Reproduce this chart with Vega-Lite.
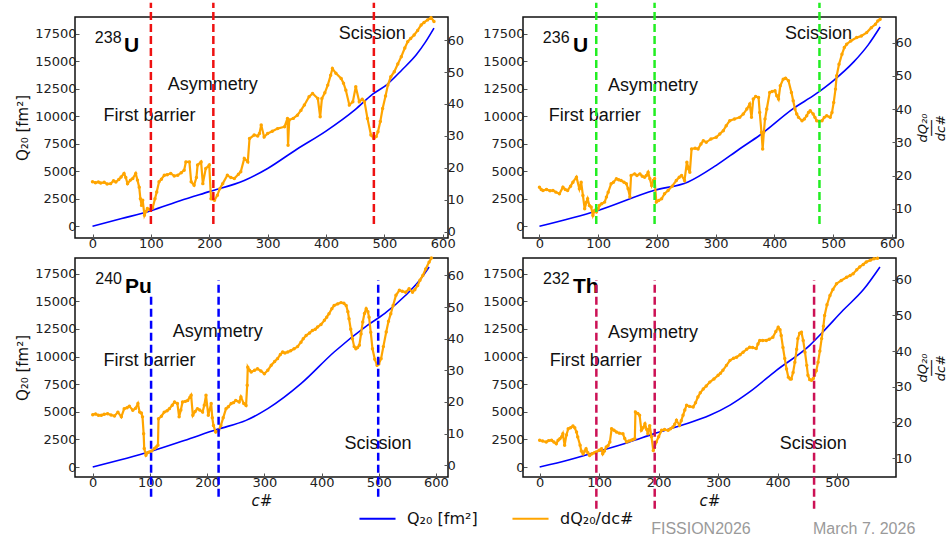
{
"$schema": "https://vega.github.io/schema/vega-lite/v6.json",
"padding": {"left": 14, "top": 0, "right": 0, "bottom": 0},
"background": "white",
"title": {"text": "FISSION2026\u00a0\u00a0\u00a0\u00a0\u00a0\u00a0\u00a0\u00a0\u00a0\u00a0\u00a0\u00a0\u00a0\u00a0March 7, 2026", "orient": "bottom", "anchor": "end", "font": "Liberation Sans", "fontSize": 16, "fontWeight": "normal", "color": "#9a9a9a", "dx": -33, "offset": -6},
"datasets": {
"q": [
{"p":"U238","c":0,"q":0},{"p":"U238","c":50,"q":700},{"p":"U238","c":100,"q":1420},{"p":"U238","c":150,"q":2320},{"p":"U238","c":200,"q":3150},{"p":"U238","c":260,"q":4150},{"p":"U238","c":300,"q":5250},{"p":"U238","c":350,"q":7000},{"p":"U238","c":400,"q":8650},{"p":"U238","c":450,"q":10600},{"p":"U238","c":480,"q":12000},{"p":"U238","c":505,"q":12900},{"p":"U238","c":530,"q":14200},{"p":"U238","c":555,"q":15600},{"p":"U238","c":570,"q":16700},{"p":"U238","c":585,"q":18000},
{"p":"U236","c":0,"q":0},{"p":"U236","c":97,"q":1390},{"p":"U236","c":196,"q":3270},{"p":"U236","c":253,"q":4030},{"p":"U236","c":301,"q":5540},{"p":"U236","c":340,"q":7000},{"p":"U236","c":375,"q":8270},{"p":"U236","c":432,"q":10690},{"p":"U236","c":470,"q":12000},{"p":"U236","c":501,"q":13260},{"p":"U236","c":535,"q":14930},{"p":"U236","c":560,"q":16500},{"p":"U236","c":580,"q":18100},
{"p":"Pu240","c":0,"q":0},{"p":"Pu240","c":102,"q":1420},{"p":"Pu240","c":160,"q":2400},{"p":"Pu240","c":218,"q":3410},{"p":"Pu240","c":268,"q":4220},{"p":"Pu240","c":306,"q":5280},{"p":"Pu240","c":364,"q":7540},{"p":"Pu240","c":422,"q":10410},{"p":"Pu240","c":480,"q":12820},{"p":"Pu240","c":510,"q":13880},{"p":"Pu240","c":547,"q":15540},{"p":"Pu240","c":570,"q":16800},{"p":"Pu240","c":588,"q":18100},
{"p":"Th232","c":0,"q":0},{"p":"Th232","c":50,"q":650},{"p":"Th232","c":95,"q":1360},{"p":"Th232","c":150,"q":2250},{"p":"Th232","c":193,"q":3020},{"p":"Th232","c":240,"q":3800},{"p":"Th232","c":286,"q":4680},{"p":"Th232","c":320,"q":5600},{"p":"Th232","c":353,"q":6790},{"p":"Th232","c":398,"q":8750},{"p":"Th232","c":454,"q":11010},{"p":"Th232","c":476,"q":12220},{"p":"Th232","c":510,"q":14180},{"p":"Th232","c":545,"q":16100},{"p":"Th232","c":572,"q":18100}
],
"d": [
{"p":"U238","c":0,"d":15.7},{"p":"U238","c":5,"d":15.4},{"p":"U238","c":10,"d":15.6},{"p":"U238","c":14,"d":15.3},{"p":"U238","c":20,"d":15.5},{"p":"U238","c":25,"d":15.0},{"p":"U238","c":31,"d":15.1},{"p":"U238","c":36,"d":16.0},{"p":"U238","c":40,"d":15.6},{"p":"U238","c":45,"d":16.4},{"p":"U238","c":49,"d":17.2},{"p":"U238","c":54,"d":18.3},{"p":"U238","c":57,"d":17.0},{"p":"U238","c":60,"d":15.1},{"p":"U238","c":65,"d":16.2},{"p":"U238","c":69,"d":16.7},{"p":"U238","c":74,"d":18.3},{"p":"U238","c":77,"d":16.2},{"p":"U238","c":80,"d":14.0},{"p":"U238","c":82,"d":10.4},{"p":"U238","c":84,"d":8.3},{"p":"U238","c":86,"d":9.9},{"p":"U238","c":89,"d":5.2},{"p":"U238","c":92,"d":6.5},{"p":"U238","c":94,"d":7.3},{"p":"U238","c":98,"d":7.0},{"p":"U238","c":103,"d":7.5},{"p":"U238","c":107,"d":10.4},{"p":"U238","c":110,"d":12.5},{"p":"U238","c":114,"d":15.7},{"p":"U238","c":118,"d":16.5},{"p":"U238","c":123,"d":17.7},{"p":"U238","c":128,"d":17.9},{"p":"U238","c":134,"d":18.3},{"p":"U238","c":140,"d":17.5},{"p":"U238","c":146,"d":17.7},{"p":"U238","c":152,"d":18.5},{"p":"U238","c":157,"d":19.3},{"p":"U238","c":160,"d":21.9},{"p":"U238","c":166,"d":21.9},{"p":"U238","c":169,"d":15.7},{"p":"U238","c":174,"d":14.6},{"p":"U238","c":178,"d":17.0},{"p":"U238","c":180,"d":20.9},{"p":"U238","c":186,"d":21.9},{"p":"U238","c":189,"d":15.1},{"p":"U238","c":194,"d":19.8},{"p":"U238","c":200,"d":20.9},{"p":"U238","c":203,"d":10.4},{"p":"U238","c":209,"d":9.9},{"p":"U238","c":214,"d":11.5},{"p":"U238","c":218,"d":13.5},{"p":"U238","c":223,"d":15.1},{"p":"U238","c":231,"d":17.7},{"p":"U238","c":237,"d":17.0},{"p":"U238","c":243,"d":16.7},{"p":"U238","c":250,"d":18.0},{"p":"U238","c":254,"d":18.8},{"p":"U238","c":260,"d":23.0},{"p":"U238","c":266,"d":21.9},{"p":"U238","c":269,"d":29.2},{"p":"U238","c":277,"d":30.3},{"p":"U238","c":283,"d":30.0},{"p":"U238","c":286,"d":30.8},{"p":"U238","c":289,"d":33.4},{"p":"U238","c":294,"d":29.7},{"p":"U238","c":300,"d":30.8},{"p":"U238","c":308,"d":31.5},{"p":"U238","c":317,"d":32.3},{"p":"U238","c":329,"d":32.9},{"p":"U238","c":334,"d":35.5},{"p":"U238","c":335,"d":27.1},{"p":"U238","c":337,"d":35.0},{"p":"U238","c":344,"d":35.5},{"p":"U238","c":351,"d":36.5},{"p":"U238","c":357,"d":38.0},{"p":"U238","c":363,"d":39.7},{"p":"U238","c":371,"d":42.3},{"p":"U238","c":377,"d":43.3},{"p":"U238","c":386,"d":41.7},{"p":"U238","c":390,"d":36.0},{"p":"U238","c":393,"d":41.7},{"p":"U238","c":398,"d":43.5},{"p":"U238","c":403,"d":45.9},{"p":"U238","c":408,"d":49.0},{"p":"U238","c":411,"d":51.1},{"p":"U238","c":417,"d":49.6},{"p":"U238","c":426,"d":48.0},{"p":"U238","c":430,"d":46.5},{"p":"U238","c":434,"d":44.3},{"p":"U238","c":440,"d":39.7},{"p":"U238","c":446,"d":40.7},{"p":"U238","c":451,"d":45.4},{"p":"U238","c":457,"d":40.7},{"p":"U238","c":462,"d":41.5},{"p":"U238","c":466,"d":40.7},{"p":"U238","c":471,"d":35.5},{"p":"U238","c":477,"d":30.3},{"p":"U238","c":482,"d":29.2},{"p":"U238","c":486,"d":29.8},{"p":"U238","c":489,"d":31.3},{"p":"U238","c":493,"d":34.5},{"p":"U238","c":497,"d":38.6},{"p":"U238","c":502,"d":42.5},{"p":"U238","c":506,"d":45.9},{"p":"U238","c":511,"d":48.5},{"p":"U238","c":517,"d":50.1},{"p":"U238","c":523,"d":52.5},{"p":"U238","c":529,"d":54.8},{"p":"U238","c":535,"d":57.5},{"p":"U238","c":540,"d":59.5},{"p":"U238","c":545,"d":60.5},{"p":"U238","c":551,"d":61.6},{"p":"U238","c":557,"d":63.0},{"p":"U238","c":563,"d":64.7},{"p":"U238","c":568,"d":65.5},{"p":"U238","c":574,"d":66.3},{"p":"U238","c":580,"d":67.0},{"p":"U238","c":585,"d":65.8},
{"p":"U236","c":0,"d":16.5},{"p":"U236","c":3,"d":15.8},{"p":"U236","c":6,"d":15.5},{"p":"U236","c":12,"d":15.8},{"p":"U236","c":18,"d":15.4},{"p":"U236","c":23,"d":15.5},{"p":"U236","c":28,"d":15.0},{"p":"U236","c":34,"d":14.5},{"p":"U236","c":40,"d":16.5},{"p":"U236","c":44,"d":15.8},{"p":"U236","c":48,"d":15.5},{"p":"U236","c":53,"d":16.8},{"p":"U236","c":57,"d":18.0},{"p":"U236","c":63,"d":19.5},{"p":"U236","c":68,"d":16.0},{"p":"U236","c":71,"d":18.0},{"p":"U236","c":74,"d":14.0},{"p":"U236","c":77,"d":10.0},{"p":"U236","c":80,"d":12.0},{"p":"U236","c":82,"d":13.0},{"p":"U236","c":85,"d":11.0},{"p":"U236","c":88,"d":10.5},{"p":"U236","c":91,"d":8.0},{"p":"U236","c":94,"d":9.5},{"p":"U236","c":97,"d":9.0},{"p":"U236","c":100,"d":10.0},{"p":"U236","c":102,"d":11.0},{"p":"U236","c":106,"d":11.5},{"p":"U236","c":111,"d":12.0},{"p":"U236","c":114,"d":13.5},{"p":"U236","c":117,"d":15.0},{"p":"U236","c":122,"d":17.5},{"p":"U236","c":126,"d":18.0},{"p":"U236","c":131,"d":19.0},{"p":"U236","c":135,"d":18.7},{"p":"U236","c":139,"d":18.5},{"p":"U236","c":144,"d":18.0},{"p":"U236","c":148,"d":17.5},{"p":"U236","c":151,"d":16.0},{"p":"U236","c":154,"d":13.5},{"p":"U236","c":156,"d":20.0},{"p":"U236","c":162,"d":20.5},{"p":"U236","c":166,"d":20.0},{"p":"U236","c":171,"d":20.5},{"p":"U236","c":175,"d":19.8},{"p":"U236","c":179,"d":19.5},{"p":"U236","c":182,"d":20.0},{"p":"U236","c":185,"d":21.0},{"p":"U236","c":188,"d":19.0},{"p":"U236","c":191,"d":17.0},{"p":"U236","c":194,"d":18.5},{"p":"U236","c":196,"d":19.0},{"p":"U236","c":199,"d":12.0},{"p":"U236","c":203,"d":12.5},{"p":"U236","c":208,"d":13.0},{"p":"U236","c":213,"d":14.5},{"p":"U236","c":219,"d":15.5},{"p":"U236","c":226,"d":16.8},{"p":"U236","c":233,"d":18.5},{"p":"U236","c":238,"d":19.5},{"p":"U236","c":242,"d":20.0},{"p":"U236","c":247,"d":18.5},{"p":"U236","c":251,"d":24.0},{"p":"U236","c":254,"d":22.0},{"p":"U236","c":256,"d":21.0},{"p":"U236","c":259,"d":28.0},{"p":"U236","c":265,"d":28.2},{"p":"U236","c":270,"d":28.0},{"p":"U236","c":275,"d":29.5},{"p":"U236","c":279,"d":30.5},{"p":"U236","c":284,"d":30.0},{"p":"U236","c":292,"d":31.0},{"p":"U236","c":301,"d":31.5},{"p":"U236","c":307,"d":32.5},{"p":"U236","c":313,"d":33.5},{"p":"U236","c":318,"d":35.0},{"p":"U236","c":324,"d":36.5},{"p":"U236","c":332,"d":37.0},{"p":"U236","c":341,"d":37.5},{"p":"U236","c":347,"d":38.5},{"p":"U236","c":353,"d":40.0},{"p":"U236","c":358,"d":41.5},{"p":"U236","c":361,"d":37.5},{"p":"U236","c":364,"d":43.0},{"p":"U236","c":368,"d":43.8},{"p":"U236","c":373,"d":43.5},{"p":"U236","c":375,"d":39.0},{"p":"U236","c":378,"d":33.0},{"p":"U236","c":380,"d":28.0},{"p":"U236","c":382,"d":33.0},{"p":"U236","c":384,"d":37.0},{"p":"U236","c":387,"d":40.0},{"p":"U236","c":392,"d":45.0},{"p":"U236","c":396,"d":45.3},{"p":"U236","c":401,"d":45.5},{"p":"U236","c":404,"d":44.0},{"p":"U236","c":407,"d":43.0},{"p":"U236","c":410,"d":47.0},{"p":"U236","c":415,"d":49.0},{"p":"U236","c":419,"d":49.3},{"p":"U236","c":424,"d":48.5},{"p":"U236","c":429,"d":45.0},{"p":"U236","c":432,"d":42.5},{"p":"U236","c":435,"d":40.0},{"p":"U236","c":438,"d":38.5},{"p":"U236","c":441,"d":37.5},{"p":"U236","c":447,"d":36.5},{"p":"U236","c":451,"d":37.0},{"p":"U236","c":455,"d":38.0},{"p":"U236","c":458,"d":39.0},{"p":"U236","c":461,"d":39.5},{"p":"U236","c":466,"d":38.5},{"p":"U236","c":469,"d":37.5},{"p":"U236","c":472,"d":36.5},{"p":"U236","c":476,"d":36.3},{"p":"U236","c":481,"d":36.5},{"p":"U236","c":485,"d":37.5},{"p":"U236","c":489,"d":38.0},{"p":"U236","c":495,"d":37.5},{"p":"U236","c":498,"d":39.0},{"p":"U236","c":501,"d":42.0},{"p":"U236","c":504,"d":46.0},{"p":"U236","c":506,"d":50.0},{"p":"U236","c":510,"d":53.5},{"p":"U236","c":515,"d":56.5},{"p":"U236","c":519,"d":58.5},{"p":"U236","c":523,"d":59.5},{"p":"U236","c":530,"d":60.5},{"p":"U236","c":540,"d":61.5},{"p":"U236","c":548,"d":62.0},{"p":"U236","c":557,"d":63.0},{"p":"U236","c":565,"d":64.5},{"p":"U236","c":572,"d":65.5},{"p":"U236","c":576,"d":66.5},{"p":"U236","c":580,"d":67.0},
{"p":"Pu240","c":0,"d":16.0},{"p":"Pu240","c":5,"d":16.2},{"p":"Pu240","c":10,"d":15.8},{"p":"Pu240","c":15,"d":15.8},{"p":"Pu240","c":20,"d":16.1},{"p":"Pu240","c":26,"d":16.3},{"p":"Pu240","c":32,"d":15.9},{"p":"Pu240","c":38,"d":15.6},{"p":"Pu240","c":44,"d":16.8},{"p":"Pu240","c":50,"d":15.3},{"p":"Pu240","c":55,"d":17.9},{"p":"Pu240","c":60,"d":18.2},{"p":"Pu240","c":64,"d":18.7},{"p":"Pu240","c":70,"d":17.4},{"p":"Pu240","c":75,"d":18.0},{"p":"Pu240","c":79,"d":19.5},{"p":"Pu240","c":82,"d":16.8},{"p":"Pu240","c":85,"d":16.5},{"p":"Pu240","c":87,"d":15.3},{"p":"Pu240","c":89,"d":10.0},{"p":"Pu240","c":90,"d":5.3},{"p":"Pu240","c":93,"d":3.2},{"p":"Pu240","c":96,"d":4.0},{"p":"Pu240","c":99,"d":4.2},{"p":"Pu240","c":103,"d":4.5},{"p":"Pu240","c":108,"d":5.3},{"p":"Pu240","c":111,"d":5.8},{"p":"Pu240","c":114,"d":6.3},{"p":"Pu240","c":115,"d":14.7},{"p":"Pu240","c":120,"d":15.5},{"p":"Pu240","c":125,"d":16.8},{"p":"Pu240","c":130,"d":17.2},{"p":"Pu240","c":134,"d":17.9},{"p":"Pu240","c":139,"d":19.0},{"p":"Pu240","c":143,"d":20.0},{"p":"Pu240","c":148,"d":19.5},{"p":"Pu240","c":151,"d":15.3},{"p":"Pu240","c":154,"d":17.5},{"p":"Pu240","c":157,"d":20.0},{"p":"Pu240","c":162,"d":20.2},{"p":"Pu240","c":166,"d":20.5},{"p":"Pu240","c":170,"d":21.5},{"p":"Pu240","c":172,"d":22.1},{"p":"Pu240","c":175,"d":15.8},{"p":"Pu240","c":179,"d":17.0},{"p":"Pu240","c":183,"d":17.9},{"p":"Pu240","c":187,"d":17.5},{"p":"Pu240","c":192,"d":16.8},{"p":"Pu240","c":195,"d":19.0},{"p":"Pu240","c":198,"d":22.1},{"p":"Pu240","c":202,"d":15.8},{"p":"Pu240","c":207,"d":19.5},{"p":"Pu240","c":209,"d":15.0},{"p":"Pu240","c":211,"d":12.6},{"p":"Pu240","c":215,"d":10.5},{"p":"Pu240","c":220,"d":11.0},{"p":"Pu240","c":224,"d":12.6},{"p":"Pu240","c":228,"d":15.0},{"p":"Pu240","c":233,"d":17.9},{"p":"Pu240","c":237,"d":18.5},{"p":"Pu240","c":242,"d":19.5},{"p":"Pu240","c":246,"d":19.8},{"p":"Pu240","c":250,"d":20.5},{"p":"Pu240","c":256,"d":20.0},{"p":"Pu240","c":259,"d":21.6},{"p":"Pu240","c":264,"d":19.5},{"p":"Pu240","c":268,"d":18.9},{"p":"Pu240","c":270,"d":25.3},{"p":"Pu240","c":271,"d":31.0},{"p":"Pu240","c":274,"d":30.0},{"p":"Pu240","c":277,"d":29.5},{"p":"Pu240","c":283,"d":30.0},{"p":"Pu240","c":288,"d":30.5},{"p":"Pu240","c":294,"d":29.8},{"p":"Pu240","c":300,"d":28.9},{"p":"Pu240","c":306,"d":30.0},{"p":"Pu240","c":312,"d":31.6},{"p":"Pu240","c":318,"d":32.8},{"p":"Pu240","c":323,"d":33.7},{"p":"Pu240","c":328,"d":35.0},{"p":"Pu240","c":332,"d":35.8},{"p":"Pu240","c":336,"d":35.5},{"p":"Pu240","c":341,"d":35.8},{"p":"Pu240","c":346,"d":36.2},{"p":"Pu240","c":352,"d":36.8},{"p":"Pu240","c":358,"d":37.5},{"p":"Pu240","c":364,"d":38.9},{"p":"Pu240","c":368,"d":40.0},{"p":"Pu240","c":373,"d":41.0},{"p":"Pu240","c":379,"d":41.8},{"p":"Pu240","c":384,"d":42.6},{"p":"Pu240","c":389,"d":43.0},{"p":"Pu240","c":393,"d":43.7},{"p":"Pu240","c":399,"d":44.5},{"p":"Pu240","c":405,"d":45.8},{"p":"Pu240","c":409,"d":46.8},{"p":"Pu240","c":413,"d":47.9},{"p":"Pu240","c":418,"d":49.5},{"p":"Pu240","c":422,"d":50.5},{"p":"Pu240","c":428,"d":51.0},{"p":"Pu240","c":434,"d":51.4},{"p":"Pu240","c":439,"d":51.2},{"p":"Pu240","c":443,"d":50.5},{"p":"Pu240","c":446,"d":48.5},{"p":"Pu240","c":448,"d":46.3},{"p":"Pu240","c":451,"d":43.0},{"p":"Pu240","c":454,"d":40.0},{"p":"Pu240","c":457,"d":37.5},{"p":"Pu240","c":460,"d":36.8},{"p":"Pu240","c":463,"d":37.2},{"p":"Pu240","c":466,"d":37.9},{"p":"Pu240","c":469,"d":41.5},{"p":"Pu240","c":472,"d":45.3},{"p":"Pu240","c":475,"d":48.0},{"p":"Pu240","c":478,"d":49.5},{"p":"Pu240","c":481,"d":48.5},{"p":"Pu240","c":483,"d":46.8},{"p":"Pu240","c":486,"d":42.0},{"p":"Pu240","c":489,"d":36.8},{"p":"Pu240","c":493,"d":33.5},{"p":"Pu240","c":497,"d":31.6},{"p":"Pu240","c":500,"d":32.0},{"p":"Pu240","c":504,"d":33.7},{"p":"Pu240","c":508,"d":37.5},{"p":"Pu240","c":513,"d":42.1},{"p":"Pu240","c":517,"d":45.5},{"p":"Pu240","c":521,"d":47.9},{"p":"Pu240","c":525,"d":50.5},{"p":"Pu240","c":530,"d":53.7},{"p":"Pu240","c":536,"d":55.3},{"p":"Pu240","c":541,"d":55.0},{"p":"Pu240","c":547,"d":54.7},{"p":"Pu240","c":553,"d":55.8},{"p":"Pu240","c":559,"d":54.7},{"p":"Pu240","c":563,"d":55.5},{"p":"Pu240","c":568,"d":56.8},{"p":"Pu240","c":572,"d":58.5},{"p":"Pu240","c":577,"d":60.0},{"p":"Pu240","c":582,"d":62.0},{"p":"Pu240","c":588,"d":64.2},{"p":"Pu240","c":592,"d":65.5},
{"p":"Th232","c":0,"d":15.0},{"p":"Th232","c":5,"d":14.8},{"p":"Th232","c":11,"d":14.5},{"p":"Th232","c":15,"d":14.9},{"p":"Th232","c":20,"d":15.0},{"p":"Th232","c":24,"d":14.5},{"p":"Th232","c":28,"d":14.0},{"p":"Th232","c":31,"d":15.0},{"p":"Th232","c":34,"d":15.4},{"p":"Th232","c":37,"d":16.0},{"p":"Th232","c":39,"d":16.8},{"p":"Th232","c":42,"d":13.6},{"p":"Th232","c":45,"d":16.5},{"p":"Th232","c":48,"d":18.2},{"p":"Th232","c":52,"d":18.5},{"p":"Th232","c":56,"d":19.0},{"p":"Th232","c":59,"d":18.5},{"p":"Th232","c":62,"d":17.3},{"p":"Th232","c":64,"d":15.9},{"p":"Th232","c":68,"d":13.6},{"p":"Th232","c":70,"d":12.0},{"p":"Th232","c":73,"d":11.2},{"p":"Th232","c":76,"d":12.0},{"p":"Th232","c":78,"d":12.6},{"p":"Th232","c":81,"d":11.5},{"p":"Th232","c":84,"d":10.7},{"p":"Th232","c":88,"d":11.2},{"p":"Th232","c":92,"d":11.5},{"p":"Th232","c":95,"d":11.7},{"p":"Th232","c":100,"d":12.2},{"p":"Th232","c":104,"d":12.6},{"p":"Th232","c":106,"d":11.2},{"p":"Th232","c":109,"d":12.0},{"p":"Th232","c":112,"d":13.1},{"p":"Th232","c":115,"d":13.5},{"p":"Th232","c":118,"d":14.5},{"p":"Th232","c":121,"d":18.2},{"p":"Th232","c":125,"d":17.8},{"p":"Th232","c":129,"d":17.3},{"p":"Th232","c":134,"d":17.0},{"p":"Th232","c":140,"d":16.8},{"p":"Th232","c":143,"d":15.5},{"p":"Th232","c":146,"d":14.5},{"p":"Th232","c":150,"d":14.8},{"p":"Th232","c":154,"d":15.0},{"p":"Th232","c":157,"d":15.2},{"p":"Th232","c":160,"d":15.4},{"p":"Th232","c":161,"d":22.9},{"p":"Th232","c":165,"d":22.5},{"p":"Th232","c":168,"d":22.0},{"p":"Th232","c":171,"d":17.8},{"p":"Th232","c":174,"d":18.5},{"p":"Th232","c":177,"d":19.6},{"p":"Th232","c":180,"d":18.0},{"p":"Th232","c":182,"d":16.8},{"p":"Th232","c":185,"d":19.1},{"p":"Th232","c":188,"d":16.0},{"p":"Th232","c":191,"d":12.1},{"p":"Th232","c":193,"d":13.0},{"p":"Th232","c":196,"d":14.5},{"p":"Th232","c":200,"d":16.0},{"p":"Th232","c":205,"d":17.8},{"p":"Th232","c":210,"d":18.0},{"p":"Th232","c":216,"d":17.8},{"p":"Th232","c":220,"d":18.2},{"p":"Th232","c":224,"d":18.7},{"p":"Th232","c":227,"d":19.5},{"p":"Th232","c":230,"d":20.6},{"p":"Th232","c":235,"d":19.2},{"p":"Th232","c":238,"d":20.5},{"p":"Th232","c":241,"d":22.0},{"p":"Th232","c":244,"d":23.5},{"p":"Th232","c":247,"d":24.8},{"p":"Th232","c":252,"d":24.5},{"p":"Th232","c":258,"d":24.3},{"p":"Th232","c":262,"d":25.5},{"p":"Th232","c":266,"d":27.1},{"p":"Th232","c":270,"d":28.3},{"p":"Th232","c":275,"d":29.4},{"p":"Th232","c":280,"d":30.2},{"p":"Th232","c":286,"d":31.3},{"p":"Th232","c":293,"d":32.2},{"p":"Th232","c":300,"d":33.2},{"p":"Th232","c":304,"d":33.8},{"p":"Th232","c":308,"d":34.6},{"p":"Th232","c":314,"d":36.0},{"p":"Th232","c":320,"d":37.4},{"p":"Th232","c":326,"d":38.0},{"p":"Th232","c":331,"d":38.3},{"p":"Th232","c":337,"d":39.0},{"p":"Th232","c":342,"d":39.7},{"p":"Th232","c":348,"d":40.5},{"p":"Th232","c":353,"d":41.1},{"p":"Th232","c":358,"d":41.0},{"p":"Th232","c":364,"d":40.7},{"p":"Th232","c":367,"d":42.0},{"p":"Th232","c":370,"d":43.0},{"p":"Th232","c":375,"d":43.0},{"p":"Th232","c":381,"d":43.0},{"p":"Th232","c":386,"d":43.3},{"p":"Th232","c":392,"d":43.9},{"p":"Th232","c":397,"d":45.5},{"p":"Th232","c":401,"d":46.7},{"p":"Th232","c":404,"d":46.0},{"p":"Th232","c":406,"d":44.4},{"p":"Th232","c":409,"d":41.0},{"p":"Th232","c":412,"d":37.9},{"p":"Th232","c":415,"d":35.0},{"p":"Th232","c":418,"d":32.7},{"p":"Th232","c":421,"d":32.2},{"p":"Th232","c":423,"d":32.2},{"p":"Th232","c":426,"d":34.0},{"p":"Th232","c":429,"d":36.9},{"p":"Th232","c":432,"d":40.5},{"p":"Th232","c":434,"d":43.5},{"p":"Th232","c":437,"d":45.0},{"p":"Th232","c":440,"d":45.3},{"p":"Th232","c":443,"d":43.0},{"p":"Th232","c":446,"d":39.7},{"p":"Th232","c":449,"d":36.0},{"p":"Th232","c":451,"d":33.2},{"p":"Th232","c":454,"d":32.0},{"p":"Th232","c":457,"d":31.8},{"p":"Th232","c":460,"d":32.3},{"p":"Th232","c":462,"d":33.2},{"p":"Th232","c":465,"d":34.5},{"p":"Th232","c":468,"d":36.9},{"p":"Th232","c":471,"d":40.0},{"p":"Th232","c":474,"d":43.5},{"p":"Th232","c":477,"d":47.0},{"p":"Th232","c":479,"d":50.0},{"p":"Th232","c":483,"d":53.0},{"p":"Th232","c":488,"d":55.6},{"p":"Th232","c":493,"d":57.3},{"p":"Th232","c":499,"d":58.9},{"p":"Th232","c":507,"d":59.8},{"p":"Th232","c":516,"d":60.7},{"p":"Th232","c":522,"d":61.2},{"p":"Th232","c":527,"d":61.7},{"p":"Th232","c":533,"d":62.8},{"p":"Th232","c":538,"d":63.6},{"p":"Th232","c":544,"d":64.3},{"p":"Th232","c":549,"d":65.0},{"p":"Th232","c":556,"d":65.5},{"p":"Th232","c":562,"d":65.9},{"p":"Th232","c":568,"d":66.0}
],
"rules": [
{"p":"U238","c":100,"y1":200,"y2":20300},{"p":"U238","c":207,"y1":200,"y2":20300},{"p":"U238","c":482,"y1":200,"y2":20300},
{"p":"U236","c":96.7,"y1":200,"y2":20300},{"p":"U236","c":196,"y1":200,"y2":20300},{"p":"U236","c":476.7,"y1":200,"y2":20300},
{"p":"Pu240","c":102,"y1":-2700,"y2":15500},{"p":"Pu240","c":220,"y1":-2700,"y2":16900},{"p":"Pu240","c":499,"y1":-2700,"y2":16900},
{"p":"Th232","c":95.3,"y1":-3770,"y2":16900},{"p":"Th232","c":193.4,"y1":-3770,"y2":16900},{"p":"Th232","c":461.3,"y1":-3770,"y2":16900}
],
"notes": [
{"p":"U238","k":"m","c":4,"q":16650,"t":"238"},{"p":"U238","k":"e","c":54,"q":15830,"t":"U"},{"p":"U238","k":"n","c":19,"q":9560,"t":"First barrier"},{"p":"U238","k":"n","c":129,"q":12380,"t":"Asymmetry"},{"p":"U238","k":"n","c":422,"q":17010,"t":"Scission"},
{"p":"U236","k":"m","c":5.8,"q":16650,"t":"236"},{"p":"U236","k":"e","c":57,"q":15830,"t":"U"},{"p":"U236","k":"n","c":16,"q":9560,"t":"First barrier"},{"p":"U236","k":"n","c":116.7,"q":12300,"t":"Asymmetry"},{"p":"U236","k":"n","c":418,"q":17040,"t":"Scission"},
{"p":"Pu240","k":"m","c":4.5,"q":16590,"t":"240"},{"p":"Pu240","k":"e","c":56.5,"q":15770,"t":"Pu"},{"p":"Pu240","k":"n","c":19,"q":9110,"t":"First barrier"},{"p":"Pu240","k":"n","c":140,"q":11760,"t":"Asymmetry"},{"p":"Pu240","k":"n","c":440,"q":1660,"t":"Scission"},
{"p":"Th232","k":"m","c":5.7,"q":16590,"t":"232"},{"p":"Th232","k":"e","c":56,"q":15770,"t":"Th"},{"p":"Th232","k":"n","c":17,"q":9110,"t":"First barrier"},{"p":"Th232","k":"n","c":115,"q":11670,"t":"Asymmetry"},{"p":"Th232","k":"n","c":403.6,"q":1660,"t":"Scission"}
]
},
"concat": [
{
"width": 373, "height": 221,
"layer": [
{"data": {"name": "q"}, "transform": [{"filter": "datum.p == 'U238'"}], "mark": {"type": "line", "strokeWidth": 1.6, "interpolate": "monotone"},
 "encoding": {
  "x": {"field": "c", "type": "quantitative", "scale": {"domain": [-30, 609], "nice": false, "zero": false}, "axis": {"values": [0,100,200,300,400,500,600], "title": null}},
  "y": {"field": "q", "type": "quantitative", "scale": {"domain": [-1063, 19010], "nice": false, "zero": false}, "axis": {"values": [0,2500,5000,7500,10000,12500,15000,17500], "format": "d", "title": "Q₂₀ [fm²]"}},
  "color": {"datum": "Q₂₀ [fm²]", "scale": {"domain": ["Q₂₀ [fm²]", "dQ₂₀/dc#"], "range": ["#0000ff", "#ffa500"]}, "legend": {"orient": "none", "legendX": 283, "legendY": 482, "direction": "horizontal", "title": null, "symbolType": "stroke", "symbolSize": 1300, "symbolStrokeWidth": 2, "labelFont": "DejaVu Sans", "labelFontSize": 16, "labelColor": "#111", "columnPadding": 30, "labelOffset": 10}}
 }},
{"data": {"name": "d"}, "transform": [{"filter": "datum.p == 'U238'"}], "mark": {"type": "line", "strokeWidth": 2.2, "point": {"filled": true, "size": 12}},
 "encoding": {
  "x": {"field": "c", "type": "quantitative", "scale": {"domain": [-30, 609], "nice": false, "zero": false}},
  "y": {"field": "d", "type": "quantitative", "scale": {"domain": [-1.9, 67.2], "nice": false, "zero": false}, "axis": {"orient": "right", "values": [0,10,20,30,40,50,60], "title": null}},
  "color": {"datum": "dQ₂₀/dc#"}
 }},
{"data": {"name": "notes"}, "transform": [{"filter": "datum.p == 'U238' && datum.k == 'n'"}], "mark": {"type": "text", "align": "left", "baseline": "alphabetic", "font": "Liberation Sans", "fontSize": 18, "color": "#111"},
 "encoding": {"x": {"field": "c", "type": "quantitative", "scale": {"domain": [-30, 609], "nice": false, "zero": false}}, "y": {"field": "q", "type": "quantitative", "scale": {"domain": [-1063, 19010], "nice": false, "zero": false}, "axis": null}, "text": {"field": "t"}}},
{"data": {"name": "notes"}, "transform": [{"filter": "datum.p == 'U238' && datum.k == 'm'"}], "mark": {"type": "text", "align": "left", "baseline": "alphabetic", "font": "Liberation Sans", "fontSize": 16, "color": "#111"},
 "encoding": {"x": {"field": "c", "type": "quantitative", "scale": {"domain": [-30, 609], "nice": false, "zero": false}}, "y": {"field": "q", "type": "quantitative", "scale": {"domain": [-1063, 19010], "nice": false, "zero": false}, "axis": null}, "text": {"field": "t"}}},
{"data": {"name": "notes"}, "transform": [{"filter": "datum.p == 'U238' && datum.k == 'e'"}], "mark": {"type": "text", "align": "left", "baseline": "alphabetic", "font": "Liberation Sans", "fontSize": 21, "fontWeight": "bold", "color": "#000"},
 "encoding": {"x": {"field": "c", "type": "quantitative", "scale": {"domain": [-30, 609], "nice": false, "zero": false}}, "y": {"field": "q", "type": "quantitative", "scale": {"domain": [-1063, 19010], "nice": false, "zero": false}, "axis": null}, "text": {"field": "t"}}},
{"data": {"name": "rules"}, "transform": [{"filter": "datum.p == 'U238'"}], "mark": {"type": "rule", "color": "#ee1111", "strokeWidth": 2.5, "strokeDash": [8, 4], "clip": false},
 "encoding": {"x": {"field": "c", "type": "quantitative", "scale": {"domain": [-30, 609], "nice": false, "zero": false}}, "y": {"field": "y1", "type": "quantitative", "scale": {"domain": [-1063, 19010], "nice": false, "zero": false}, "axis": null}, "y2": {"field": "y2"}}}
],
"resolve": {"scale": {"y": "independent"}}
},
{
"width": 373, "height": 221,
"layer": [
{"data": {"name": "q"}, "transform": [{"filter": "datum.p == 'U236'"}], "mark": {"type": "line", "strokeWidth": 1.6, "interpolate": "monotone"},
 "encoding": {
  "x": {"field": "c", "type": "quantitative", "scale": {"domain": [-28, 607], "nice": false, "zero": false}, "axis": {"values": [0,100,200,300,400,500,600], "title": null}},
  "y": {"field": "q", "type": "quantitative", "scale": {"domain": [-1063, 19010], "nice": false, "zero": false}, "axis": {"values": [0,2500,5000,7500,10000,12500,15000,17500], "format": "d", "title": null}},
  "color": {"datum": "Q₂₀ [fm²]"}
 }},
{"data": {"name": "d"}, "transform": [{"filter": "datum.p == 'U236'"}], "mark": {"type": "line", "strokeWidth": 2.2, "point": {"filled": true, "size": 12}},
 "encoding": {
  "x": {"field": "c", "type": "quantitative", "scale": {"domain": [-28, 607], "nice": false, "zero": false}},
  "y": {"field": "d", "type": "quantitative", "scale": {"domain": [1.2, 67.7], "nice": false, "zero": false}, "axis": {"orient": "right", "values": [10,20,30,40,50,60], "title": ["dQ₂₀", "──", "dc#"], "titleAngle": 270, "titleFontStyle": "italic", "titleFontSize": 13, "titleLineHeight": 9, "titlePadding": 0}},
  "color": {"datum": "dQ₂₀/dc#"}
 }},
{"data": {"name": "notes"}, "transform": [{"filter": "datum.p == 'U236' && datum.k == 'n'"}], "mark": {"type": "text", "align": "left", "baseline": "alphabetic", "font": "Liberation Sans", "fontSize": 18, "color": "#111"},
 "encoding": {"x": {"field": "c", "type": "quantitative", "scale": {"domain": [-28, 607], "nice": false, "zero": false}}, "y": {"field": "q", "type": "quantitative", "scale": {"domain": [-1063, 19010], "nice": false, "zero": false}, "axis": null}, "text": {"field": "t"}}},
{"data": {"name": "notes"}, "transform": [{"filter": "datum.p == 'U236' && datum.k == 'm'"}], "mark": {"type": "text", "align": "left", "baseline": "alphabetic", "font": "Liberation Sans", "fontSize": 16, "color": "#111"},
 "encoding": {"x": {"field": "c", "type": "quantitative", "scale": {"domain": [-28, 607], "nice": false, "zero": false}}, "y": {"field": "q", "type": "quantitative", "scale": {"domain": [-1063, 19010], "nice": false, "zero": false}, "axis": null}, "text": {"field": "t"}}},
{"data": {"name": "notes"}, "transform": [{"filter": "datum.p == 'U236' && datum.k == 'e'"}], "mark": {"type": "text", "align": "left", "baseline": "alphabetic", "font": "Liberation Sans", "fontSize": 21, "fontWeight": "bold", "color": "#000"},
 "encoding": {"x": {"field": "c", "type": "quantitative", "scale": {"domain": [-28, 607], "nice": false, "zero": false}}, "y": {"field": "q", "type": "quantitative", "scale": {"domain": [-1063, 19010], "nice": false, "zero": false}, "axis": null}, "text": {"field": "t"}}},
{"data": {"name": "rules"}, "transform": [{"filter": "datum.p == 'U236'"}], "mark": {"type": "rule", "color": "#22ee22", "strokeWidth": 2.5, "strokeDash": [8, 4], "clip": false},
 "encoding": {"x": {"field": "c", "type": "quantitative", "scale": {"domain": [-28, 607], "nice": false, "zero": false}}, "y": {"field": "y1", "type": "quantitative", "scale": {"domain": [-1063, 19010], "nice": false, "zero": false}, "axis": null}, "y2": {"field": "y2"}}}
],
"resolve": {"scale": {"y": "independent"}}
},
{
"width": 373, "height": 219,
"layer": [
{"data": {"name": "q"}, "transform": [{"filter": "datum.p == 'Pu240'"}], "mark": {"type": "line", "strokeWidth": 1.6, "interpolate": "monotone"},
 "encoding": {
  "x": {"field": "c", "type": "quantitative", "scale": {"domain": [-31, 621], "nice": false, "zero": false}, "axis": {"values": [0,100,200,300,400,500,600], "title": "c#", "titleFontStyle": "italic"}},
  "y": {"field": "q", "type": "quantitative", "scale": {"domain": [-905, 18915], "nice": false, "zero": false}, "axis": {"values": [0,2500,5000,7500,10000,12500,15000,17500], "format": "d", "title": "Q₂₀ [fm²]"}},
  "color": {"datum": "Q₂₀ [fm²]"}
 }},
{"data": {"name": "d"}, "transform": [{"filter": "datum.p == 'Pu240'"}], "mark": {"type": "line", "strokeWidth": 2.2, "point": {"filled": true, "size": 12}},
 "encoding": {
  "x": {"field": "c", "type": "quantitative", "scale": {"domain": [-31, 621], "nice": false, "zero": false}},
  "y": {"field": "d", "type": "quantitative", "scale": {"domain": [-3.7, 65.5], "nice": false, "zero": false}, "axis": {"orient": "right", "values": [0,10,20,30,40,50,60], "title": null}},
  "color": {"datum": "dQ₂₀/dc#"}
 }},
{"data": {"name": "notes"}, "transform": [{"filter": "datum.p == 'Pu240' && datum.k == 'n'"}], "mark": {"type": "text", "align": "left", "baseline": "alphabetic", "font": "Liberation Sans", "fontSize": 18, "color": "#111"},
 "encoding": {"x": {"field": "c", "type": "quantitative", "scale": {"domain": [-31, 621], "nice": false, "zero": false}}, "y": {"field": "q", "type": "quantitative", "scale": {"domain": [-905, 18915], "nice": false, "zero": false}, "axis": null}, "text": {"field": "t"}}},
{"data": {"name": "notes"}, "transform": [{"filter": "datum.p == 'Pu240' && datum.k == 'm'"}], "mark": {"type": "text", "align": "left", "baseline": "alphabetic", "font": "Liberation Sans", "fontSize": 16, "color": "#111"},
 "encoding": {"x": {"field": "c", "type": "quantitative", "scale": {"domain": [-31, 621], "nice": false, "zero": false}}, "y": {"field": "q", "type": "quantitative", "scale": {"domain": [-905, 18915], "nice": false, "zero": false}, "axis": null}, "text": {"field": "t"}}},
{"data": {"name": "notes"}, "transform": [{"filter": "datum.p == 'Pu240' && datum.k == 'e'"}], "mark": {"type": "text", "align": "left", "baseline": "alphabetic", "font": "Liberation Sans", "fontSize": 21, "fontWeight": "bold", "color": "#000"},
 "encoding": {"x": {"field": "c", "type": "quantitative", "scale": {"domain": [-31, 621], "nice": false, "zero": false}}, "y": {"field": "q", "type": "quantitative", "scale": {"domain": [-905, 18915], "nice": false, "zero": false}, "axis": null}, "text": {"field": "t"}}},
{"data": {"name": "rules"}, "transform": [{"filter": "datum.p == 'Pu240'"}], "mark": {"type": "rule", "color": "#0000ff", "strokeWidth": 2.5, "strokeDash": [8, 4], "clip": false},
 "encoding": {"x": {"field": "c", "type": "quantitative", "scale": {"domain": [-31, 621], "nice": false, "zero": false}}, "y": {"field": "y1", "type": "quantitative", "scale": {"domain": [-905, 18915], "nice": false, "zero": false}, "axis": null}, "y2": {"field": "y2"}}}
],
"resolve": {"scale": {"y": "independent"}}
},
{
"width": 373, "height": 219,
"layer": [
{"data": {"name": "q"}, "transform": [{"filter": "datum.p == 'Th232'"}], "mark": {"type": "line", "strokeWidth": 1.6, "interpolate": "monotone"},
 "encoding": {
  "x": {"field": "c", "type": "quantitative", "scale": {"domain": [-28, 599], "nice": false, "zero": false}, "axis": {"values": [0,100,200,300,400,500], "title": "c#", "titleFontStyle": "italic"}},
  "y": {"field": "q", "type": "quantitative", "scale": {"domain": [-905, 18915], "nice": false, "zero": false}, "axis": {"values": [0,2500,5000,7500,10000,12500,15000,17500], "format": "d", "title": null}},
  "color": {"datum": "Q₂₀ [fm²]"}
 }},
{"data": {"name": "d"}, "transform": [{"filter": "datum.p == 'Th232'"}], "mark": {"type": "line", "strokeWidth": 2.2, "point": {"filled": true, "size": 12}},
 "encoding": {
  "x": {"field": "c", "type": "quantitative", "scale": {"domain": [-28, 599], "nice": false, "zero": false}},
  "y": {"field": "d", "type": "quantitative", "scale": {"domain": [4.7, 66.1], "nice": false, "zero": false}, "axis": {"orient": "right", "values": [10,20,30,40,50,60], "title": ["dQ₂₀", "──", "dc#"], "titleAngle": 270, "titleFontStyle": "italic", "titleFontSize": 13, "titleLineHeight": 9, "titlePadding": 0}},
  "color": {"datum": "dQ₂₀/dc#"}
 }},
{"data": {"name": "notes"}, "transform": [{"filter": "datum.p == 'Th232' && datum.k == 'n'"}], "mark": {"type": "text", "align": "left", "baseline": "alphabetic", "font": "Liberation Sans", "fontSize": 18, "color": "#111"},
 "encoding": {"x": {"field": "c", "type": "quantitative", "scale": {"domain": [-28, 599], "nice": false, "zero": false}}, "y": {"field": "q", "type": "quantitative", "scale": {"domain": [-905, 18915], "nice": false, "zero": false}, "axis": null}, "text": {"field": "t"}}},
{"data": {"name": "notes"}, "transform": [{"filter": "datum.p == 'Th232' && datum.k == 'm'"}], "mark": {"type": "text", "align": "left", "baseline": "alphabetic", "font": "Liberation Sans", "fontSize": 16, "color": "#111"},
 "encoding": {"x": {"field": "c", "type": "quantitative", "scale": {"domain": [-28, 599], "nice": false, "zero": false}}, "y": {"field": "q", "type": "quantitative", "scale": {"domain": [-905, 18915], "nice": false, "zero": false}, "axis": null}, "text": {"field": "t"}}},
{"data": {"name": "notes"}, "transform": [{"filter": "datum.p == 'Th232' && datum.k == 'e'"}], "mark": {"type": "text", "align": "left", "baseline": "alphabetic", "font": "Liberation Sans", "fontSize": 21, "fontWeight": "bold", "color": "#000"},
 "encoding": {"x": {"field": "c", "type": "quantitative", "scale": {"domain": [-28, 599], "nice": false, "zero": false}}, "y": {"field": "q", "type": "quantitative", "scale": {"domain": [-905, 18915], "nice": false, "zero": false}, "axis": null}, "text": {"field": "t"}}},
{"data": {"name": "rules"}, "transform": [{"filter": "datum.p == 'Th232'"}], "mark": {"type": "rule", "color": "#cc1155", "strokeWidth": 2.5, "strokeDash": [8, 4], "clip": false},
 "encoding": {"x": {"field": "c", "type": "quantitative", "scale": {"domain": [-28, 599], "nice": false, "zero": false}}, "y": {"field": "y1", "type": "quantitative", "scale": {"domain": [-905, 18915], "nice": false, "zero": false}, "axis": null}, "y2": {"field": "y2"}}}
],
"resolve": {"scale": {"y": "independent"}}
}
],
"columns": 2,
"spacing": {"row": 20, "column": 75},
"bounds": "flush",
"resolve": {"scale": {"x": "independent", "y": "independent", "color": "shared"}},
"config": {
 "font": "DejaVu Sans",
 "view": {"stroke": "#111", "strokeWidth": 1.5},
 "axis": {"domain": false, "grid": false, "ticks": true, "tickSize": -4, "tickColor": "#555", "tickWidth": 1, "labelFont": "DejaVu Sans", "labelFontSize": 13, "labelColor": "#222", "labelPadding": 3, "labelFlush": false, "labelOverlap": false, "labelBound": false, "titleFont": "DejaVu Sans", "titleFontSize": 15, "titleFontWeight": "normal", "titleColor": "#111", "titlePadding": 4},
 "legend": {"padding": 0}
}
}
